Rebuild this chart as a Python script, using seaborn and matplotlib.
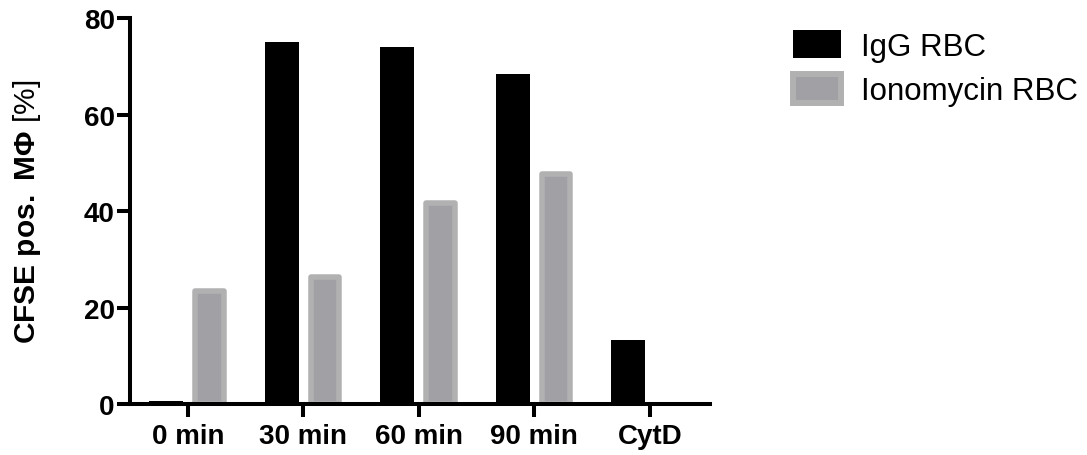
import numpy as np
import pandas as pd
import seaborn as sns
import matplotlib.pyplot as plt
from matplotlib.patches import Patch

# values
timepoints = ["0 min", "30 min", "60 min", "90 min", "CytD"]
igg_rbc = [0.7, 75.0, 74.1, 68.5, 13.3]
iono_rbc = [23.5, 26.3, 41.6, 47.7, np.nan]
series_names = ["IgG RBC", "Ionomycin RBC"]

df = pd.DataFrame({
    "time": timepoints * 2,
    "value": igg_rbc + iono_rbc,
    "group": [series_names[0]] * 5 + [series_names[1]] * 5,
})

sns.set_style("white")
plt.rcParams["font.family"] = ["Liberation Sans", "DejaVu Sans"]
plt.rcParams["text.color"] = "black"
plt.rcParams["mathtext.fontset"] = "custom"
plt.rcParams["mathtext.rm"] = "Liberation Sans"
plt.rcParams["mathtext.bf"] = "Liberation Sans:bold"

fig = plt.figure(figsize=(10.87, 4.56), dpi=100)
ax = fig.add_axes([130 / 1087, 1 - 405 / 456, 580 / 1087, 385.7 / 456])

sns.barplot(data=df, x="time", y="value", hue="group", order=timepoints,
            hue_order=series_names, palette=["black", "#a1a0a5"],
            width=0.745, gap=0.21, errorbar=None, legend=False, ax=ax,
            linewidth=0, saturation=1)

ax.set_xlim(-0.5, 4.52)
ax.set_ylim(0, 80)
ax.set_yticks([0, 20, 40, 60, 80])

# grey bars get a lighter outline, kept inside the same footprint
edge_px = 5.5
dx = edge_px * (ax.get_xlim()[1] - ax.get_xlim()[0]) / 580
for p in ax.patches:
    if p.get_facecolor()[0] > 0.3:
        p.set_x(p.get_x() + dx / 2)
        p.set_width(p.get_width() - dx)
        p.set_edgecolor("#b1b1b1")
        p.set_linewidth(edge_px * 72 / 100)
        p.set_joinstyle("round")

sns.despine(ax=ax)
for s in ["left", "bottom"]:
    ax.spines[s].set_linewidth(2.9)
    ax.spines[s].set_color("black")

ax.tick_params(axis="both", direction="out", length=9.5, width=2.9,
               color="black", labelcolor="black", labelsize=20,
               bottom=True, left=True)
ax.tick_params(axis="y", pad=1.5)
ax.tick_params(axis="x", pad=4)
for lab in ax.get_xticklabels() + ax.get_yticklabels():
    lab.set_fontweight("bold")

ax.set_xlabel("")
ax.set_ylabel(r"$\mathbf{CFSE}$ $\mathbf{pos.}$ $\mathbf{M\Phi}$ [%]",
              fontsize=21.5, color="black")
ax.yaxis.set_label_coords(-0.15, 0.5)

handles = [Patch(facecolor="black", edgecolor="black", linewidth=0),
           Patch(facecolor="#a1a0a5", edgecolor="#b1b1b1", linewidth=4.3)]
fig.legend(handles, series_names, loc="upper left",
           bbox_to_anchor=(793 / 1087, 1 - 31 / 456), frameon=False,
           fontsize=22.5, handlelength=1.53, handleheight=1.02,
           handletextpad=0.66, labelspacing=0.4, borderpad=0,
           borderaxespad=0)

fig.savefig("out.png", dpi=100)
